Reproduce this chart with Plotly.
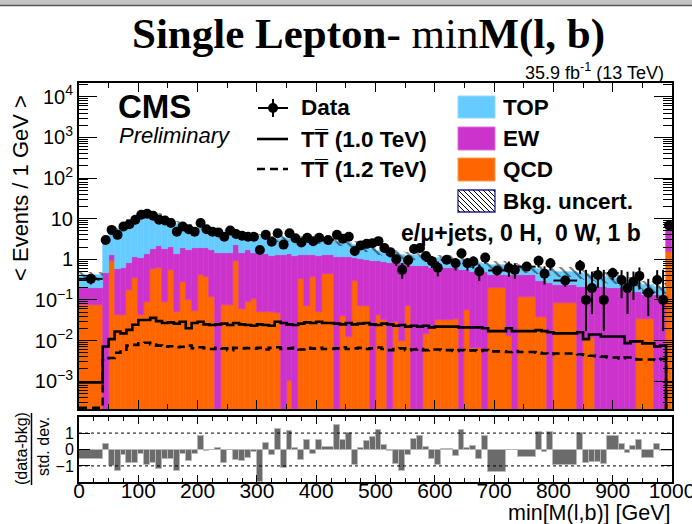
import numpy as np
import plotly.graph_objects as go

# ---------------- data ----------------
edges = [0, 40, 50, 60, 70, 80, 90, 100, 110, 120, 130, 140, 150, 160, 170, 180, 190, 200,
         210, 220, 230, 240, 250, 260, 270, 280, 290, 300, 310, 320, 330, 340, 350, 360, 370,
         380, 390, 400, 410, 430, 440, 450, 460, 470, 480, 490, 500, 510, 520, 530, 540, 550,
         560, 570, 580, 590, 600, 610, 630, 640, 650, 660, 670, 680, 690, 720, 730, 740, 770,
         780, 790, 800, 840, 850, 860, 870, 880, 890, 910, 920, 930, 940, 950, 970, 980, 990, 1000]

data = [0.33, 3.0, 5.3, 4.0, 6.4, 7.3, 9.4, 12.5, 13.2, 11.8,
        9.4, 9.0, 7.8, 4.8, 6.4, 5.5, 4.8, 7.8, 5.5, 4.8,
        4.6, 3.6, 5.1, 4.2, 3.8, 3.6, 3.6, 1.7, 4.0, 2.7,
        4.4, 2.3, 4.4, 3.3, 2.6, 3.4, 2.8, 3.4, 3.0, 4.0,
        3.2, 3.6, 1.6, 2.2, 2.4, 2.5, 2.8, 1.9, 1.5, 1.0,
        0.55, 0.95, 1.8, 1.9, 1.2, 0.9, 0.62, 0.97, 0.8, 1.4,
        0.8, 0.88, 0.50, 1.1, 0.53, 0.61, 0.55, 0.66, 0.92, 0.44,
        0.8, 0.30, 0.69, 0.10, 0.195, 0.41, 0.10, 0.46, 0.31, 0.195,
        0.28, 0.39, 0.15, 0.31, 0.10, 6.8]

data_err_hi = [0.09, 0.55, 0.73, 0.63, 0.8, 0.85, 0.97, 1.12, 1.15, 1.09,
               0.97, 0.95, 0.88, 0.69, 0.8, 0.74, 0.69, 0.88, 0.74, 0.69,
               0.68, 0.6, 0.71, 0.65, 0.62, 0.6, 0.6, 0.41, 0.63, 0.52,
               0.66, 0.48, 0.66, 0.57, 0.51, 0.58, 0.53, 0.58, 0.39, 0.63,
               0.57, 0.6, 0.4, 0.47, 0.49, 0.5, 0.53, 0.44, 0.39, 0.32,
               0.25, 0.31, 0.42, 0.44, 0.35, 0.3, 0.26, 0.22, 0.28, 0.37,
               0.28, 0.3, 0.24, 0.33, 0.14, 0.27, 0.25, 0.15, 0.3, 0.23,
               0.28, 0.1, 0.27, 0.45, 0.3, 0.24, 0.45, 0.16, 0.23, 0.3,
               0.22, 0.24, 0.18, 0.23, 0.45, 0.85]

data_err_lo = [0.09, 0.55, 0.73, 0.63, 0.8, 0.85, 0.97, 1.12, 1.15, 1.09,
               0.97, 0.95, 0.88, 0.69, 0.8, 0.74, 0.69, 0.88, 0.74, 0.69,
               0.68, 0.6, 0.71, 0.65, 0.62, 0.6, 0.6, 0.41, 0.63, 0.52,
               0.66, 0.48, 0.66, 0.57, 0.51, 0.58, 0.53, 0.58, 0.39, 0.63,
               0.57, 0.6, 0.4, 0.47, 0.49, 0.5, 0.53, 0.44, 0.39, 0.31,
               0.22, 0.3, 0.42, 0.44, 0.34, 0.29, 0.24, 0.21, 0.27, 0.36,
               0.27, 0.29, 0.21, 0.32, 0.13, 0.24, 0.22, 0.14, 0.29, 0.2,
               0.27, 0.09, 0.26, 0.083, 0.15, 0.21, 0.083, 0.15, 0.2, 0.15,
               0.18, 0.21, 0.11, 0.2, 0.083, 0.8]

qcd = [0.076, 0, 0.9, 0.043, 0.043, 0.18, 0.34, 0.043, 0.09, 0.57,
       0.62, 0.09, 0.55, 0.05, 0.27, 0.1, 0.052, 0.415, 0.36, 0.117,
       0, 0.076, 0.076, 0.92, 0.06, 0.09, 0.107, 0.05, 0.05, 0.05,
       0.047, 0, 0.001, 0, 0.33, 0.072, 0.36, 0.05, 0.44, 0,
       0.04, 0.012, 0.295, 0.07, 0.07, 0, 0.043, 0.032, 0, 0.028,
       0.01, 0.072, 0, 0, 0.0145, 0.02, 0.032, 0.032, 0.033, 0,
       0.057, 0.0066, 0.0066, 0, 0.2, 0.013, 0, 0.115, 0.037, 0.037,
       0, 0.086, 0, 0.0115, 0.0115, 0, 0, 0, 0, 0,
       0, 0.034, 0.034, 0, 0, 1.55]

ew = [0.124, 0.46, 0.39, 0.53, 0.56, 0.65, 0.79, 1.03, 1.28, 1.24,
      1.53, 1.72, 1.5, 1.32, 1.65, 1.55, 1.87, 1.5, 1.56, 1.58,
      1.47, 1.39, 1.39, 1.36, 1.41, 1.61, 1.29, 1.3, 1.3, 1.15,
      1.25, 1.25, 1.35, 1.2, 0.97, 1.18, 0.89, 1.15, 0.81, 1.17,
      1.13, 1.14, 0.76, 0.93, 0.9, 0.93, 0.86, 0.82, 0.82, 0.77,
      0.79, 0.71, 0.67, 0.67, 0.66, 0.58, 0.57, 0.57, 0.57, 0.55,
      0.49, 0.49, 0.49, 0.5, 0.215, 0.4, 0.415, 0.3, 0.248, 0.248,
      0.26, 0.149, 0.21, 0.2, 0.2, 0.21, 0.21, 0.2, 0.195, 0.16,
      0.16, 0.126, 0.096, 0.13, 0.13, 3.75]

top = [0.20, 2.34, 4.21, 4.93, 6.4, 7.67, 9.37, 12.43, 13.13, 11.69,
       9.85, 8.69, 6.95, 6.13, 5.08, 4.85, 3.58, 4.08, 3.78, 3.3,
       3.03, 3.03, 3.13, 2.42, 2.83, 2.2, 2.3, 2.25, 2.15, 2.0,
       1.9, 2.05, 1.85, 1.9, 1.8, 1.75, 1.65, 1.7, 1.55, 1.53,
       1.43, 1.35, 1.25, 1.1, 0.93, 0.82, 0.7, 0.7, 0.68, 0.6,
       0.5, 0.42, 0.58, 0.53, 0.48, 0.5, 0.45, 0.4, 0.38, 0.4,
       0.33, 0.32, 0.3, 0.28, 0.305, 0.265, 0.245, 0.205, 0.295, 0.275,
       0.28, 0.265, 0.25, 0.22, 0.2, 0.18, 0.16, 0.14, 0.115, 0.13,
       0.12, 0.1, 0.1, 0.08, 0.07, 1.0]

bkg_unc_rel = [0.25, 0.2, 0.15, 0.15, 0.14, 0.14, 0.13, 0.13, 0.13, 0.13,
               0.13, 0.13, 0.13, 0.14, 0.14, 0.14, 0.15, 0.15, 0.15, 0.15,
               0.16, 0.16, 0.16, 0.18, 0.16, 0.17, 0.17, 0.17, 0.17, 0.18,
               0.18, 0.18, 0.18, 0.18, 0.19, 0.18, 0.19, 0.19, 0.19, 0.2,
               0.2, 0.2, 0.2, 0.21, 0.21, 0.21, 0.22, 0.22, 0.22, 0.22,
               0.23, 0.23, 0.23, 0.23, 0.24, 0.24, 0.24, 0.24, 0.25, 0.25,
               0.25, 0.25, 0.26, 0.26, 0.28, 0.26, 0.26, 0.27, 0.27, 0.27,
               0.27, 0.28, 0.28, 0.28, 0.28, 0.29, 0.29, 0.29, 0.3, 0.3,
               0.3, 0.3, 0.3, 0.31, 0.31, 0.3]

sig_tt10 = [0.00093, 0.0071, 0.0108, 0.0166, 0.015, 0.0183, 0.0245, 0.032, 0.032, 0.036,
            0.03, 0.027, 0.028, 0.026, 0.029, 0.020, 0.027, 0.029, 0.025, 0.024,
            0.025, 0.026, 0.024, 0.027, 0.025, 0.024, 0.023, 0.025, 0.024, 0.023,
            0.029, 0.027, 0.025, 0.024, 0.026, 0.028, 0.027, 0.029, 0.027, 0.026,
            0.025, 0.027, 0.025, 0.026, 0.027, 0.025, 0.024, 0.026, 0.025, 0.023,
            0.024, 0.022, 0.023, 0.022, 0.023, 0.021, 0.022, 0.022, 0.022, 0.021,
            0.021, 0.021, 0.021, 0.02, 0.017, 0.02, 0.017, 0.017, 0.018, 0.017,
            0.016, 0.015, 0.016, 0.0108, 0.014, 0.014, 0.0126, 0.0126, 0.0126, 0.0086,
            0.0095, 0.0095, 0.0085, 0.0071, 0.0075, 0.00001]

sig_tt12 = [0.00022, 0.0033, 0.0037, 0.005, 0.0059, 0.0075, 0.0078, 0.0085, 0.0088, 0.008,
            0.0075, 0.007, 0.0072, 0.0068, 0.007, 0.0075, 0.0065, 0.0068, 0.0065, 0.0062,
            0.0066, 0.0064, 0.0058, 0.0066, 0.0064, 0.0065, 0.0063, 0.0066, 0.006, 0.0066,
            0.0068, 0.0062, 0.0064, 0.0066, 0.006, 0.0066, 0.0063, 0.0066, 0.0062, 0.0064,
            0.0068, 0.0062, 0.0064, 0.0066, 0.0062, 0.0064, 0.0067, 0.0062, 0.0058, 0.0062,
            0.0064, 0.0058, 0.006, 0.0062, 0.0058, 0.006, 0.006, 0.0058, 0.0055, 0.0058,
            0.0056, 0.0057, 0.0055, 0.0058, 0.0054, 0.0052, 0.0055, 0.0052, 0.005, 0.0048,
            0.0046, 0.0048, 0.0046, 0.0044, 0.0042, 0.0041, 0.004, 0.0038, 0.0036, 0.0038,
            0.0035, 0.0034, 0.0034, 0.0033, 0.0035, 0.00001]

pull = [-0.55, 0.36, -1.0, -1.3, -0.35, -0.8, -0.85, -0.3, -0.95, -0.85,
        -1.2, -0.6, -0.55, -1.3, -0.3, -0.7, -0.3, 0.8, -0.1, -0.05,
        0.1, -0.85, 0.0, -0.65, -0.7, -0.5, -0.15, -2.0, 0.4, -0.35,
        1.25, -1.1, 1.15, 0.1, -0.65, 0.6, -0.25, 0.55, 0.15, 1.5,
        0.55, 1.0, -0.95, 0.1, 0.5, 0.75, 1.2, 0.25, -0.1, -0.9,
        -1.3, -0.35, 0.65, 0.8, 0.15, -0.55, -0.95, 0.05, -0.4, 1.2,
        0.1, 0.2, -0.6, 0.8, -1.35, -0.05, -0.05, -0.45, 1.05, -0.15,
        1.05, -0.95, 1.0, -0.85, -0.75, -0.75, -0.9, 0.85, 0.35, -0.2,
        0.2, 0.55, -0.5, 0.35, -0.1, -0.1]

main_ytick_vals = [1e-3, 1e-2, 1e-1, 1, 10, 1e2, 1e3, 1e4]
main_ytick_text = ["10<sup>\u22123</sup>", "10<sup>\u22122</sup>", "10<sup>\u22121</sup>", "1", "10",
                   "10<sup>2</sup>", "10<sup>3</sup>", "10<sup>4</sup>"]
ratio_ytick_vals = [-1, 0, 1]
ratio_ytick_text = ["\u22121", "0", "1"]
xtick_vals = [0, 100, 200, 300, 400, 500, 600, 700, 800, 900, 1000]

# ---------------- derived ----------------
e = np.array(edges, float)
centers = 0.5 * (e[:-1] + e[1:])
widths = np.diff(e)
qcd_a, ew_a, top_a = np.array(qcd), np.array(ew), np.array(top)
floor = 1e-7
total = qcd_a + ew_a + top_a
unc = np.array(bkg_unc_rel)

C_TOP, C_EW, C_QCD = "#66CCFF", "#CC33CC", "#FF6600"
FONT = "Liberation Sans, Arial, Helvetica, sans-serif"

fig = go.Figure()
fig.add_trace(go.Bar(x=centers, y=qcd_a, base=floor, width=widths,
                     marker=dict(color=C_QCD, line=dict(width=0.6, color=C_QCD)), xaxis="x", yaxis="y"))
fig.add_trace(go.Bar(x=centers, y=ew_a, base=np.maximum(qcd_a, floor), width=widths,
                     marker=dict(color=C_EW, line=dict(width=0.6, color=C_EW)), xaxis="x", yaxis="y"))
fig.add_trace(go.Bar(x=centers, y=top_a, base=qcd_a + ew_a, width=widths,
                     marker=dict(color=C_TOP, line=dict(width=0.6, color=C_TOP)), xaxis="x", yaxis="y"))
fig.add_trace(go.Bar(x=centers, y=2 * unc * total, base=total * (1 - unc), width=widths,
                     marker=dict(color="rgba(0,0,0,0)", line=dict(width=0),
                                 pattern=dict(shape="\\", fgcolor="black", bgcolor="rgba(0,0,0,0)",
                                              size=7, solidity=0.3, fillmode="overlay")),
                     xaxis="x", yaxis="y"))
fig.add_trace(go.Scatter(x=e, y=list(sig_tt10) + [sig_tt10[-1]], mode="lines", line_shape="hv",
                         line=dict(color="black", width=2.6), xaxis="x", yaxis="y"))
fig.add_trace(go.Scatter(x=e, y=list(sig_tt12) + [sig_tt12[-1]], mode="lines", line_shape="hv",
                         line=dict(color="black", width=2.6, dash="8px,5px"), xaxis="x", yaxis="y"))
fig.add_trace(go.Scatter(x=centers, y=data, mode="markers",
                         marker=dict(color="black", size=10),
                         error_x=dict(type="data", array=widths / 2, color="black", thickness=2, width=0),
                         error_y=dict(type="data", array=data_err_hi, arrayminus=data_err_lo,
                                      color="black", thickness=2, width=0),
                         xaxis="x", yaxis="y"))
# ratio panel
fig.add_trace(go.Bar(x=centers, y=pull, base=0, width=widths,
                     marker=dict(color="#6b6b6b", line=dict(width=1, color="#b8b8b8")),
                     xaxis="x2", yaxis="y2"))

L, R, T, B = 79, 20, 83, 42
W, H = 692, 524
PW, PH = W - L - R, H - T - B
def px(x):
    return (x - L) / PW
def py(y):
    return 1 - (y - T) / PH

main_dom = [py(409), 1.0]
ratio_dom = [0.0, py(417)]

axis_common = dict(showline=True, linewidth=2, linecolor="black", mirror="allticks",
                   showgrid=False, zeroline=False, ticks="inside", tickcolor="black",
                   automargin=False)

fig.update_layout(
    width=W, height=H, margin=dict(l=L, r=R, t=T, b=B, autoexpand=False),
    paper_bgcolor="white", plot_bgcolor="white", showlegend=False,
    barmode="overlay", bargap=0,
    font=dict(family=FONT, color="black"),
    xaxis=dict(domain=[0, 1], anchor="y", range=[0, 1000], showticklabels=False,
               tickvals=xtick_vals, ticklen=9, tickwidth=1,
               minor=dict(ticks="inside", ticklen=5, dtick=50, tick0=0, tickcolor="black"),
               **axis_common),
    yaxis=dict(domain=main_dom, anchor="x", type="log", range=[-3.687, 4.342],
               tickvals=main_ytick_vals, ticktext=main_ytick_text, ticklen=18, tickwidth=1,
               tickfont=dict(size=20),
               minor=dict(ticks="inside", ticklen=9, dtick="D1", tickcolor="black"),
               **axis_common),
    xaxis2=dict(domain=[0, 1], anchor="y2", range=[0, 1000], matches="x",
                tickvals=xtick_vals, ticklen=7, tickwidth=1, tickfont=dict(size=21),
                ticklabelstandoff=-11, ticklabeloverflow="allow",
                minor=dict(ticks="inside", ticklen=4, dtick=25, tick0=0, tickcolor="black"),
                **axis_common),
    yaxis2=dict(domain=ratio_dom, anchor="x2", range=[-1.98, 1.98],
                tickvals=ratio_ytick_vals, ticktext=ratio_ytick_text, ticklen=11, tickwidth=1,
                tickfont=dict(size=16), **axis_common),
)

shapes = []
for yv in (1, -1):
    shapes.append(dict(type="line", xref="x2", yref="y2", x0=0, x1=1000, y0=yv, y1=yv,
                       line=dict(color="black", width=1, dash="dot")))

def pline(x0, y0, x1, y1, **kw):
    shapes.append(dict(type="line", xref="paper", yref="paper",
                       x0=px(x0), y0=py(y0), x1=px(x1), y1=py(y1), line=kw))

def prect(x0, y0, x1, y1, fill, lc, lw):
    shapes.append(dict(type="rect", xref="paper", yref="paper",
                       x0=px(x0), y0=py(y0), x1=px(x1), y1=py(y1),
                       fillcolor=fill, line=dict(color=lc, width=lw)))

# screenshot chrome at the very top
prect(-2, -2, 694, 5, "#c4c4c4", "#c4c4c4", 0)
pline(0, 5.5, 692, 5.5, color="#555555", width=1.5)

# legend glyphs
pline(258, 108, 288, 108, color="black", width=2)
pline(273, 99, 273, 117, color="black", width=2)
shapes.append(dict(type="circle", xref="paper", yref="paper", x0=px(268), x1=px(278),
                   y0=py(113), y1=py(103), fillcolor="black", line=dict(color="black", width=0)))
pline(257, 139, 288, 139, color="black", width=2.6)
pline(257, 169, 288, 169, color="black", width=2.6, dash="8px,5px")
prect(458, 96, 495, 118, C_TOP, "#8fd9ff", 1)
prect(458, 127, 495, 150, C_EW, "#d870d8", 1)
prect(458, 158, 495, 181, C_QCD, "#ff9950", 1)
prect(458, 190, 495, 212, "white", "#1f1f99", 1.3)
bx0, by0, bx1, by1 = 458, 190, 495, 212
hgt = by1 - by0
for x0 in range(bx0 - hgt + 2, bx1, 5):
    t0 = max(0, bx0 - x0)
    t1 = min(hgt, bx1 - x0)
    if t1 > t0:
        pline(x0 + t0, by0 + t0, x0 + t1, by0 + t1, color="black", width=1)
# ratio y-title fraction bar
pline(31.5, 413, 31.5, 485, color="black", width=1.5)

fig.update_layout(shapes=shapes)

ann = []
def text(x, y, s, size, anchor="left", family=FONT, angle=0, yanchor="middle"):
    ann.append(dict(xref="paper", yref="paper", x=px(x), y=py(y), text=s, showarrow=False,
                    xanchor=anchor, yanchor=yanchor, textangle=angle,
                    font=dict(size=size, family=family, color="black")))

text(368, 34, "<b>Single Lepton-</b> min<b>M(l, b)</b>", 43, anchor="center",
     family="Liberation Serif, Times New Roman, serif")
text(666, 71, "35.9 fb<sup>-1</sup> (13 TeV)", 18, anchor="right")
text(116, 106, "<b>CMS</b>", 33)
text(117, 136, "<i>Preliminary</i>", 22)
text(299, 108, "<b>Data</b>", 22.5)
text(299, 139, "<b>TT\u0305 (1.0 TeV)</b>", 22.5)
text(299, 169, "<b>TT\u0305 (1.2 TeV)</b>", 22.5)
text(501, 107, "<b>TOP</b>", 22.5)
text(501, 138, "<b>EW</b>", 22.5)
text(501, 169, "<b>QCD</b>", 22.5)
text(501, 201, "<b>Bkg. uncert.</b>", 22.5)
text(399, 233, "<b>e/\u03bc+jets, 0 H,\u00a0\u00a00 W, 1 b</b>", 23)
text(21, 188, "< Events / 1 GeV >", 22, anchor="center", angle=-90)
text(21, 449, "(data-bkg)", 16, anchor="center", angle=-90)
text(43, 447, "std. dev.", 16, anchor="center", angle=-90)
text(672, 513, "min[M(l,b)] [GeV]", 21.5, anchor="right")
fig.update_layout(annotations=ann)

fig.write_html("out.html")
